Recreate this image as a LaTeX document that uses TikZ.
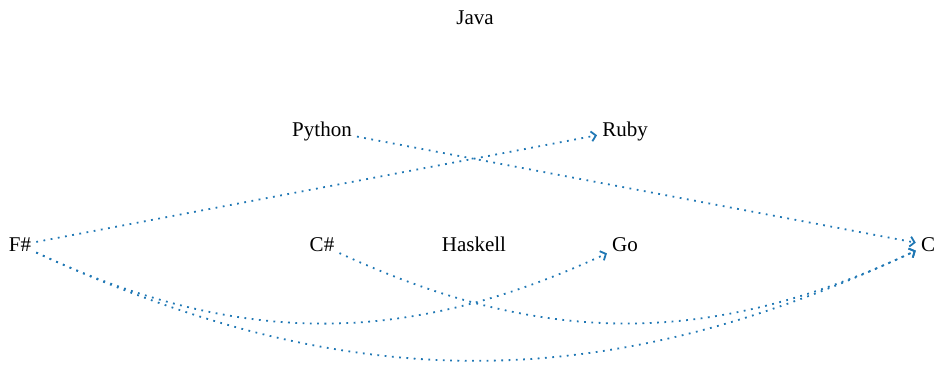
\documentclass[tikz,border=0pt]{standalone}
\usepackage{fontspec}
\setmainfont{Liberation Serif}
\usetikzlibrary{arrows.meta}
\definecolor{cEdge}{HTML}{1F77B4}

\begin{document}
\begin{tikzpicture}[x=1pt, y=1pt,
    lang/.style={inner sep=5pt, font=\fontsize{21}{25}\selectfont, text height=14pt, text depth=0pt},
    arr/.style={-{Straight Barb[length=4.5pt, width=10pt]}, cEdge, line width=1.8pt, dash pattern=on 1.8pt off 5.5pt}
]
\useasboundingbox (0,0) rectangle (943,371);
\node[lang] (java)    at (475,353) {Java};
\node[lang] (python)  at (322,241) {Python};
\node[lang] (ruby)    at (625,241) {Ruby};
\node[lang] (fsharp)  at (20,126)  {F\#};
\node[lang] (csharp)  at (322,126) {C\#};
\node[lang] (haskell) at (474,126) {Haskell};
\node[lang] (go)      at (625,126) {Go};
\node[lang] (c)       at (928,126) {C};

\draw[arr] (python) -- (c);
\draw[arr] (fsharp) -- (ruby);
\draw[arr] (fsharp) to[bend right=25] (go);
\draw[arr] (fsharp) to[bend right=25] (c);
\draw[arr] (csharp) to[bend right=25] (c);
\end{tikzpicture}
\end{document}
